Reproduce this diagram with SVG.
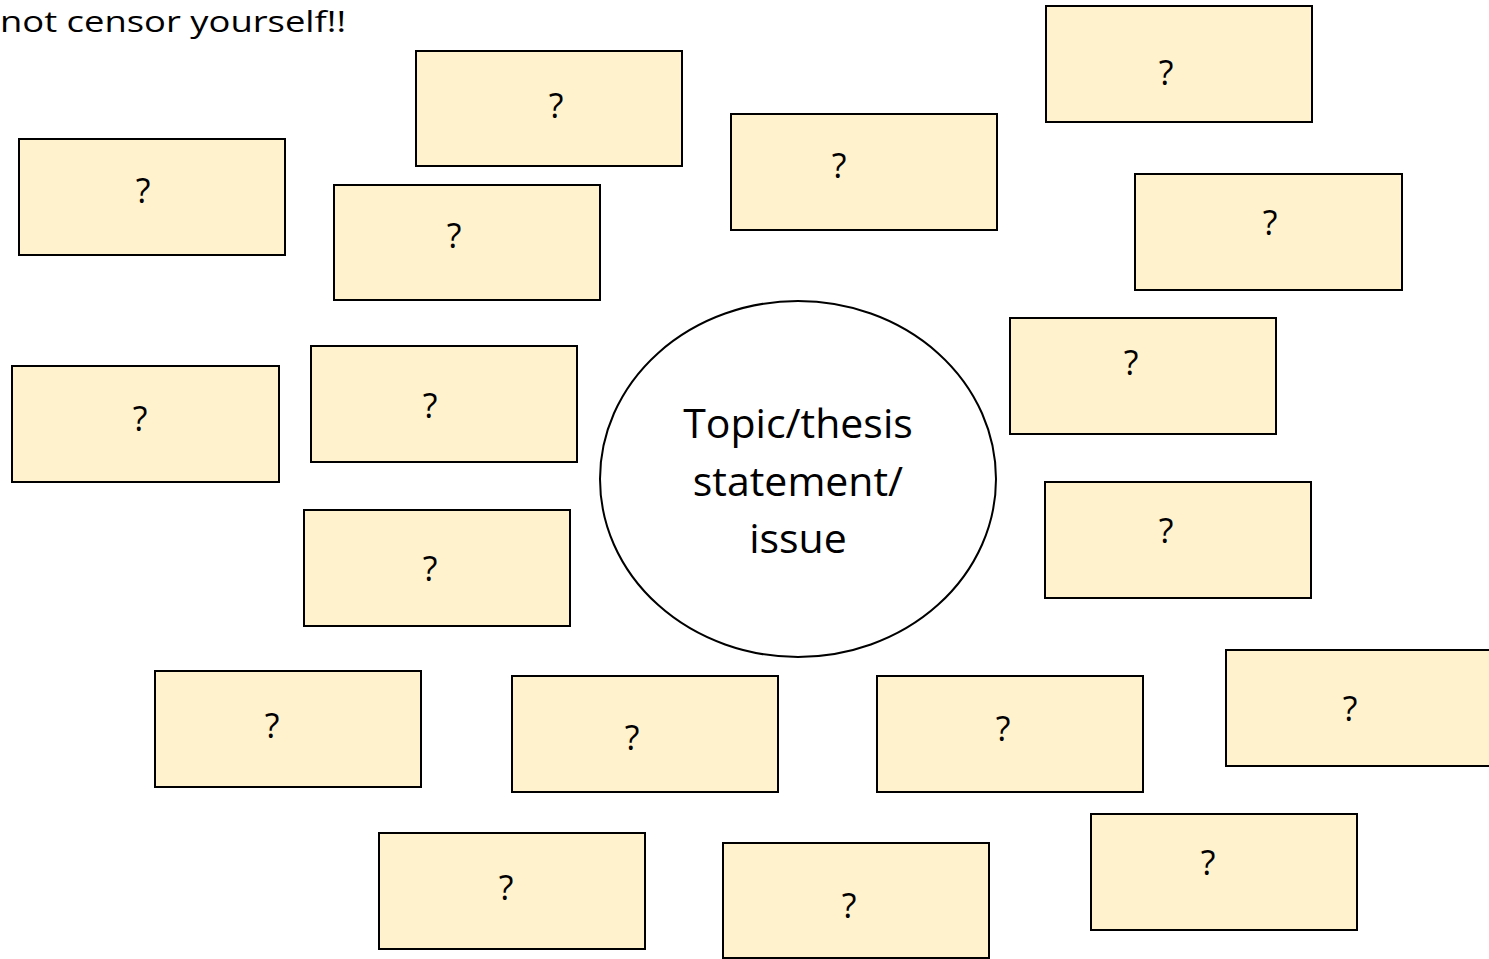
<svg xmlns="http://www.w3.org/2000/svg" width="1489" height="959" viewBox="0 0 1489 959">
<style>
.box rect{fill:#FFF2CC;stroke:#000;stroke-width:2}
.q{font-family:"Open Sans","Liberation Sans",sans-serif;font-size:34px;fill:#000;text-anchor:middle}
.c{font-family:"Open Sans","Liberation Sans",sans-serif;font-size:41px;fill:#000;text-anchor:middle}
.t{font-family:"Open Sans","Liberation Sans",sans-serif;font-size:30px;fill:#000}
</style>
<rect width="1489" height="959" fill="#fff"/>
<text class="t" x="0" y="32" textLength="346" lengthAdjust="spacingAndGlyphs">not censor yourself!!</text>
<g id="connectors"></g>
<g id="center">
<ellipse cx="798" cy="479" rx="198" ry="178" fill="#fff" stroke="#000" stroke-width="2"/>
<text class="c" x="798" y="438">Topic/thesis</text>
<text class="c" x="798" y="496">statement/</text>
<text class="c" x="798" y="553">issue</text>
</g>
<g id="n1" class="box"><rect x="416" y="51" width="266" height="115"/><text class="q" x="556" y="118">?</text></g>
<g id="n2" class="box"><rect x="1046" y="6" width="266" height="116"/><text class="q" x="1166" y="85">?</text></g>
<g id="n3" class="box"><rect x="19" y="139" width="266" height="116"/><text class="q" x="143" y="203">?</text></g>
<g id="n4" class="box"><rect x="731" y="114" width="266" height="116"/><text class="q" x="839" y="178">?</text></g>
<g id="n5" class="box"><rect x="334" y="185" width="266" height="115"/><text class="q" x="454" y="248">?</text></g>
<g id="n6" class="box"><rect x="1135" y="174" width="267" height="116"/><text class="q" x="1270" y="235">?</text></g>
<g id="n7" class="box"><rect x="1010" y="318" width="266" height="116"/><text class="q" x="1131" y="375">?</text></g>
<g id="n8" class="box"><rect x="12" y="366" width="267" height="116"/><text class="q" x="140" y="431">?</text></g>
<g id="n9" class="box"><rect x="311" y="346" width="266" height="116"/><text class="q" x="430" y="418">?</text></g>
<g id="n10" class="box"><rect x="1045" y="482" width="266" height="116"/><text class="q" x="1166" y="543">?</text></g>
<g id="n11" class="box"><rect x="304" y="510" width="266" height="116"/><text class="q" x="430" y="581">?</text></g>
<g id="n12" class="box"><rect x="155" y="671" width="266" height="116"/><text class="q" x="272" y="738">?</text></g>
<g id="n13" class="box"><rect x="512" y="676" width="266" height="116"/><text class="q" x="632" y="750">?</text></g>
<g id="n14" class="box"><rect x="877" y="676" width="266" height="116"/><text class="q" x="1003" y="741">?</text></g>
<g id="n15" class="box"><rect x="1226" y="650" width="270" height="116"/><text class="q" x="1350" y="721">?</text></g>
<g id="n16" class="box"><rect x="379" y="833" width="266" height="116"/><text class="q" x="506" y="900">?</text></g>
<g id="n17" class="box"><rect x="723" y="843" width="266" height="115"/><text class="q" x="849" y="918">?</text></g>
<g id="n18" class="box"><rect x="1091" y="814" width="266" height="116"/><text class="q" x="1208" y="875">?</text></g>
</svg>
